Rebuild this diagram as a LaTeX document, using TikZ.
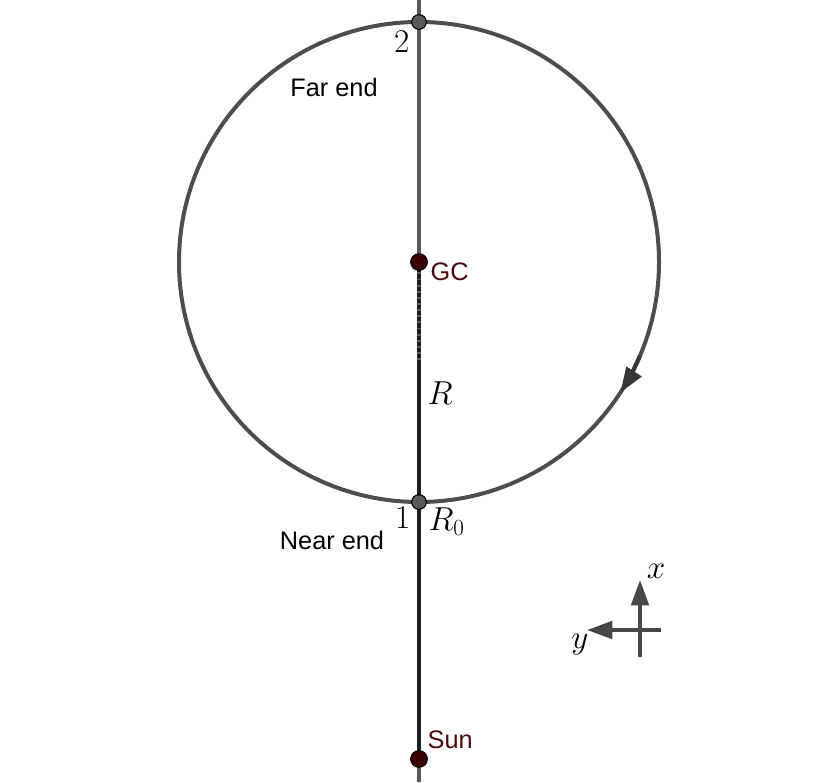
\documentclass[tikz,border=0pt]{standalone}
\usepackage{fontspec}
\newfontfamily\labelfont{Liberation Sans}
\usetikzlibrary{arrows.meta}
\definecolor{orbitgray}{HTML}{4D4D4D}
\definecolor{axisgray}{HTML}{5A5A5A}
\definecolor{darkline}{HTML}{1E1E1E}
\definecolor{maroon}{HTML}{3A0000}
\definecolor{maroontext}{HTML}{4A0A0A}
\tikzset{
  graypoint/.style={circle,draw=black,fill=axisgray,line width=0.8pt,inner sep=0pt,minimum size=11pt},
  redpoint/.style={circle,draw=black,fill=maroon,line width=0.8pt,inner sep=0pt,minimum size=12.5pt},
  sanslabel/.style={font=\labelfont\fontsize{19}{22}\selectfont},
  mathlabel/.style={font=\fontsize{25}{30}\selectfont},
  axisarrow/.style={draw=black!72,line width=3pt,-{Triangle[length=19pt,width=13pt,fill=black!72]}}
}
\begin{document}
\begin{tikzpicture}[x=0.75pt,y=0.75pt]
  \useasboundingbox (0,0) rectangle (830,782);
  \draw (419, 520) coordinate (gc) {};
  \draw (419, 23) coordinate (sun) {};
  \draw (419, 760) coordinate (far) {};
  \draw (419, 280) coordinate (near) {};
  \draw (419, 420) coordinate (dashend) {};
  \draw (419, 782) coordinate (linetop) {};
  \draw (419, 0) coordinate (linebottom) {};
  % line of sight
  \draw [axisgray, line width=2.4pt] (linebottom) -- (linetop);
  \draw [darkline, line width=3.2pt] (dashend) -- (sun);
  \draw [darkline, line width=3.4pt, dash pattern=on 3.2pt off 1.4pt] (gc) -- (dashend);
  % orbit
  \draw [orbitgray, line width=3pt] (gc) circle (240);
  \draw [orbitgray!70!black, line width=3pt, -{Triangle[length=19pt,width=13pt]}] (gc) ++(-23:240) arc (-23:-33:240);
  % points
  \node[graypoint] (p2) at (far) {};
  \node[graypoint] (p1) at (near) {};
  \node[redpoint] (pgc) at (gc) {};
  \node[redpoint] (psun) at (sun) {};
  \node[mathlabel, anchor=north east, inner sep=1pt] (l2) at (411, 752) {$2$};
  \node[mathlabel, anchor=north east, inner sep=1pt] (l1) at (412, 276) {$1$};
  \node[mathlabel, anchor=north west, inner sep=1pt] (lr0) at (427, 276) {$R_0$};
  \node[mathlabel] (lr) at (440, 389) {$R$};
  \node[sanslabel] (farend) at (334, 695) {Far end};
  \node[sanslabel] (nearend) at (332, 242) {Near end};
  \node[sanslabel, text=maroontext, anchor=west, inner sep=1pt] (lgc) at (429, 510) {GC};
  \node[sanslabel, text=maroontext, anchor=west, inner sep=1pt] (lsun) at (426, 42) {Sun};
  % axes
  \draw (640, 152) coordinate (cross) {};
  \draw (640, 125) coordinate (xstart) {};
  \draw (640, 202) coordinate (xend) {};
  \draw (661, 152) coordinate (ystart) {};
  \draw (587, 152) coordinate (yend) {};
  \draw [axisarrow] (xstart) -- (xend);
  \draw [axisarrow] (ystart) -- (yend);
  \node[mathlabel] (lx) at (656, 211) {$x$};
  \node[mathlabel] (ly) at (580, 137) {$y$};
\end{tikzpicture}
\end{document}
